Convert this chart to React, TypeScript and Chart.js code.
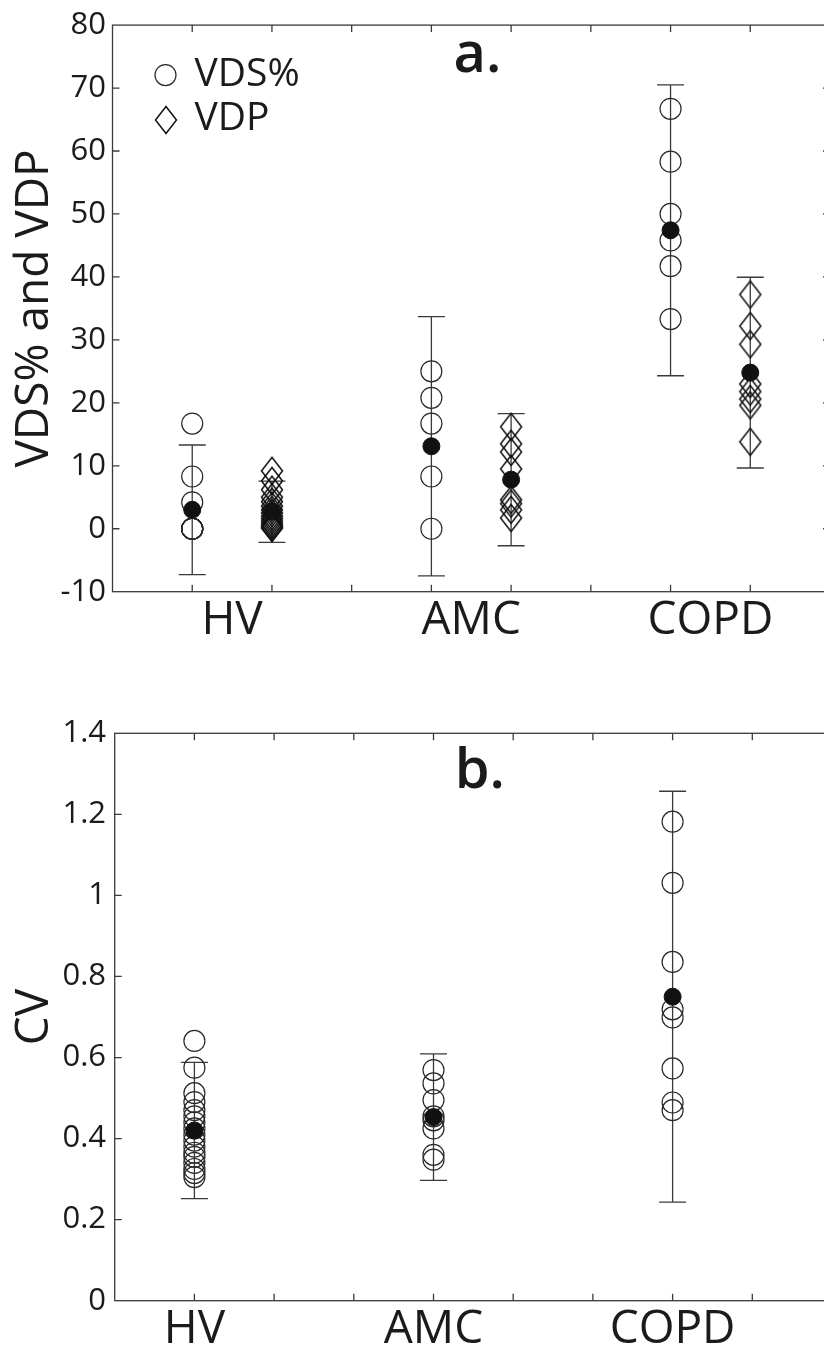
import React, { useEffect, useRef } from 'react';
import { Chart, registerables } from 'chart.js';

Chart.register(...registerables);

const FONT = "'Open Sans', 'Liberation Sans', 'DejaVu Sans', sans-serif";
const INK = '#1b1b1b';
const LINE = '#3a3a3a';
const MARK = '#2a2a2a';

// ---------- data ----------
const groups = ['HV', 'AMC', 'COPD'];
const vdsSlots = [1, 4, 7];
const vdpSlots = [2, 5, 8];
const cvSlots = [1, 4, 7];
const groupLabelSlotsA = [1.5, 4.5, 7.5];
const groupLabelSlotsB = [1, 4, 7];

const vdsHV = [16.7, 8.3, 4.2, 0, 0, 0, 0, 0, 0, 0];
const vdsAMC = [25.0, 20.8, 16.7, 8.3, 0];
const vdsCOPD = [66.7, 58.3, 50.0, 45.8, 41.7, 33.3];
const vdpHV = [9.2, 7.6, 6.2, 5.0, 4.3, 3.6, 3.0, 2.5, 2.0, 1.6, 1.2, 0.8, 0.5, 0.2, 0.1];
const vdpAMC = [16.2, 13.5, 12.2, 9.5, 4.6, 4.0, 3.0, 1.7];
const vdpCOPD = [37.2, 32.2, 29.3, 23.0, 21.8, 20.6, 19.6, 13.8];
const vdsMean = [3.0, 13.1, 47.4];
const vdsSD = [10.3, 20.6, 23.1];
const vdpMean = [2.7, 7.8, 24.8];
const vdpSD = [4.85, 10.5, 15.15];

const cvHV = [0.641, 0.575, 0.512, 0.49, 0.47, 0.455, 0.44, 0.425, 0.41, 0.395, 0.38, 0.365, 0.355, 0.34, 0.325, 0.315, 0.305];
const cvAMC = [0.569, 0.536, 0.495, 0.455, 0.445, 0.425, 0.36, 0.348];
const cvCOPD = [1.182, 1.031, 0.836, 0.719, 0.699, 0.573, 0.489, 0.47];
const cvMean = [0.42, 0.453, 0.75];
const cvSD = [0.168, 0.156, 0.507];

const yTicksA = { min: -10, max: 80, step: 10 };
const yTicksB = { min: 0, max: 1.4, step: 0.2 };

// ---------- helpers ----------
function makeDiamond(): HTMLCanvasElement {
  const c = document.createElement('canvas');
  c.width = 24;
  c.height = 30;
  const g = c.getContext('2d') as CanvasRenderingContext2D;
  g.strokeStyle = '#111';
  g.lineWidth = 1.5;
  g.beginPath();
  g.moveTo(12, 1.5);
  g.lineTo(22.5, 15);
  g.lineTo(12, 28.5);
  g.lineTo(1.5, 15);
  g.closePath();
  g.stroke();
  return c;
}

const pts = (vals: number[], slot: number) => vals.map((v) => ({ x: slot, y: v }));

const errorBarsPlugin = {
  id: 'errorBars',
  beforeDatasetsDraw(chart: any, _a: any, opts: any) {
    const { ctx, scales } = chart;
    ctx.save();
    ctx.strokeStyle = LINE;
    ctx.lineWidth = 1.3;
    (opts.items || []).forEach((it: any) => {
      const px = scales.x.getPixelForValue(it.x);
      const top = scales.y.getPixelForValue(it.mean + it.sd);
      const bot = scales.y.getPixelForValue(it.mean - it.sd);
      ctx.beginPath();
      ctx.moveTo(px, top);
      ctx.lineTo(px, bot);
      ctx.moveTo(px - opts.cap, top);
      ctx.lineTo(px + opts.cap, top);
      ctx.moveTo(px - opts.cap, bot);
      ctx.lineTo(px + opts.cap, bot);
      ctx.stroke();
    });
    ctx.restore();
  },
};

const framePlugin = {
  id: 'frame',
  afterDraw(chart: any, _a: any, opts: any) {
    const { ctx, chartArea: a, scales } = chart;
    const xs = scales.x;
    const ys = scales.y;
    ctx.save();
    ctx.strokeStyle = LINE;
    ctx.lineWidth = 1.3;
    ctx.strokeRect(a.left, a.top, a.right - a.left, a.bottom - a.top);
    ctx.beginPath();
    for (let v = Math.ceil(xs.min) + opts.xStep; v < xs.max - 1e-6; v += opts.xStep) {
      const px = xs.getPixelForValue(v);
      ctx.moveTo(px, a.bottom);
      ctx.lineTo(px, a.bottom - opts.tick);
      ctx.moveTo(px, a.top);
      ctx.lineTo(px, a.top + opts.tick);
    }
    ys.ticks.forEach((t: any) => {
      if (t.value <= ys.min + 1e-9 || t.value >= ys.max - 1e-9) return;
      const py = ys.getPixelForValue(t.value);
      ctx.moveTo(a.left, py);
      ctx.lineTo(a.left + opts.tick, py);
      ctx.moveTo(a.right, py);
      ctx.lineTo(a.right - opts.tick, py);
    });
    ctx.stroke();
    ctx.restore();
  },
};

const panelLabelPlugin = {
  id: 'panelLabel',
  afterDraw(chart: any, _a: any, opts: any) {
    const { ctx, chartArea: a } = chart;
    ctx.save();
    ctx.fillStyle = INK;
    ctx.font = `600 ${opts.size}px ${FONT}`;
    ctx.textAlign = 'left';
    ctx.textBaseline = 'alphabetic';
    ctx.fillText(opts.text, a.left + opts.dx, a.top + opts.dy);
    ctx.restore();
  },
};

const keyPlugin = {
  id: 'seriesKey',
  afterDraw(chart: any, _a: any, opts: any) {
    if (!opts.show) return;
    const { ctx, chartArea: a } = chart;
    const sets = chart.data.datasets.filter((d: any) => opts.labels.includes(d.label));
    ctx.save();
    ctx.font = `${opts.size}px ${FONT}`;
    ctx.fillStyle = INK;
    ctx.textAlign = 'left';
    ctx.textBaseline = 'middle';
    sets.forEach((d: any, i: number) => {
      const cx = a.left + opts.dx;
      const cy = a.top + opts.dy + i * opts.rowGap;
      if (d.pointStyle instanceof HTMLCanvasElement) {
        const im = d.pointStyle;
        ctx.drawImage(im, Math.round(cx - im.width / 2), Math.round(cy - im.height / 2 + 1));
      } else {
        ctx.strokeStyle = MARK;
        ctx.lineWidth = 1.2;
        ctx.beginPath();
        ctx.arc(cx, cy, 10.5, 0, Math.PI * 2);
        ctx.stroke();
      }
      ctx.fillText(d.label, cx + opts.textGap, cy);
    });
    ctx.restore();
  },
};

const circleStyle = {
  pointStyle: 'circle',
  pointRadius: 10.5,
  pointBorderWidth: 1.2,
  pointBorderColor: MARK,
  pointBackgroundColor: 'rgba(0,0,0,0)',
};
const meanStyle = {
  pointStyle: 'circle',
  pointRadius: 8.5,
  pointBorderWidth: 1,
  pointBorderColor: '#111',
  pointBackgroundColor: '#111',
};

function yScale(range: any, title: string, width: number, pad: number) {
  return {
    type: 'linear',
    min: range.min,
    max: range.max,
    grid: { display: false, drawTicks: false },
    border: { display: false },
    ticks: {
      stepSize: range.step,
      font: { family: FONT, size: 31 },
      color: INK,
      padding: pad,
      callback: (v: number) => String(Number(Number(v).toFixed(1))),
    },
    title: {
      display: true,
      text: title,
      font: { family: FONT, size: 46, lineHeight: 1 },
      color: INK,
      padding: { top: 12, bottom: 0 },
    },
    afterFit: (s: any) => {
      s.width = width;
    },
  };
}

function xScale(labelSlots: number[], height: number, pad: number) {
  return {
    type: 'linear',
    min: 0,
    max: 9,
    grid: { display: false, drawTicks: false },
    border: { display: false },
    afterBuildTicks: (s: any) => {
      s.ticks = labelSlots.map((v) => ({ value: v }));
    },
    ticks: {
      autoSkip: false,
      maxRotation: 0,
      font: { family: FONT, size: 46, lineHeight: 1 },
      color: INK,
      padding: pad,
      callback: (_v: number, i: number) => groups[i],
    },
    afterFit: (s: any) => {
      s.height = height;
    },
  };
}

export default function App() {
  const refA = useRef<HTMLCanvasElement>(null);
  const refB = useRef<HTMLCanvasElement>(null);

  useEffect(() => {
    const diamond = makeDiamond();

    const chartA = new Chart(refA.current as HTMLCanvasElement, {
      type: 'scatter',
      data: {
        datasets: [
          {
            label: 'mean',
            data: [
              ...vdsMean.map((m, i) => ({ x: vdsSlots[i], y: m })),
              ...vdpMean.map((m, i) => ({ x: vdpSlots[i], y: m })),
            ],
            ...meanStyle,
          },
          {
            label: 'VDS%',
            data: [
              ...pts(vdsHV, vdsSlots[0]),
              ...pts(vdsAMC, vdsSlots[1]),
              ...pts(vdsCOPD, vdsSlots[2]),
            ],
            ...circleStyle,
          },
          {
            label: 'VDP',
            data: [
              ...pts(vdpHV, vdpSlots[0]),
              ...pts(vdpAMC, vdpSlots[1]),
              ...pts(vdpCOPD, vdpSlots[2]),
            ],
            pointStyle: diamond,
            pointRadius: 13,
          },
        ],
      } as any,
      options: {
        responsive: false,
        animation: false,
        events: [],
        layout: { padding: { top: 25, right: 20, bottom: 0, left: 0 } },
        plugins: {
          legend: { display: false },
          tooltip: { enabled: false },
          errorBars: {
            cap: 13.5,
            items: [
              ...vdsMean.map((m, i) => ({ x: vdsSlots[i], mean: m, sd: vdsSD[i] })),
              ...vdpMean.map((m, i) => ({ x: vdpSlots[i], mean: m, sd: vdpSD[i] })),
            ],
          },
          frame: { xStep: 1, tick: 7 },
          panelLabel: { text: 'a.', size: 56, dx: 341, dy: 47 },
          seriesKey: { show: true, labels: ['VDS%', 'VDP'], size: 39, dx: 53, dy: 50, rowGap: 43.5, textGap: 29 },
        } as any,
        scales: {
          x: xScale(groupLabelSlotsA, 68.3, 6),
          y: yScale(yTicksA, 'VDS% and VDP', 112.5, 6.5),
        } as any,
      },
      plugins: [errorBarsPlugin, framePlugin, panelLabelPlugin, keyPlugin],
    });

    const chartB = new Chart(refB.current as HTMLCanvasElement, {
      type: 'scatter',
      data: {
        datasets: [
          {
            label: 'mean',
            data: cvMean.map((m, i) => ({ x: cvSlots[i], y: m })),
            ...meanStyle,
          },
          {
            label: 'CV',
            data: [...pts(cvHV, cvSlots[0]), ...pts(cvAMC, cvSlots[1]), ...pts(cvCOPD, cvSlots[2])],
            ...circleStyle,
          },
        ],
      } as any,
      options: {
        responsive: false,
        animation: false,
        events: [],
        layout: { padding: { top: 53.3, right: 18, bottom: 0, left: 0 } },
        plugins: {
          legend: { display: false },
          tooltip: { enabled: false },
          errorBars: {
            cap: 13.5,
            items: cvMean.map((m, i) => ({ x: cvSlots[i], mean: m, sd: cvSD[i] })),
          },
          frame: { xStep: 1, tick: 7 },
          panelLabel: { text: 'b.', size: 56, dx: 340, dy: 55 },
          seriesKey: { show: false, labels: [] },
        } as any,
        scales: {
          x: xScale(groupLabelSlotsB, 54.3, 6),
          y: yScale(yTicksB, 'CV', 114.7, 8.7),
        } as any,
      },
      plugins: [errorBarsPlugin, framePlugin, panelLabelPlugin, keyPlugin],
    });

    return () => {
      chartA.destroy();
      chartB.destroy();
    };
  }, []);

  return (
    <div
      style={{
        position: 'fixed',
        left: 0,
        top: 0,
        width: 824,
        height: 1355,
        overflow: 'hidden',
        background: '#fff',
      }}
    >
      <canvas ref={refA} width={850} height={660} style={{ position: 'absolute', left: 0, top: 0 }} />
      <canvas ref={refB} width={850} height={675} style={{ position: 'absolute', left: 0, top: 680 }} />
    </div>
  );
}
